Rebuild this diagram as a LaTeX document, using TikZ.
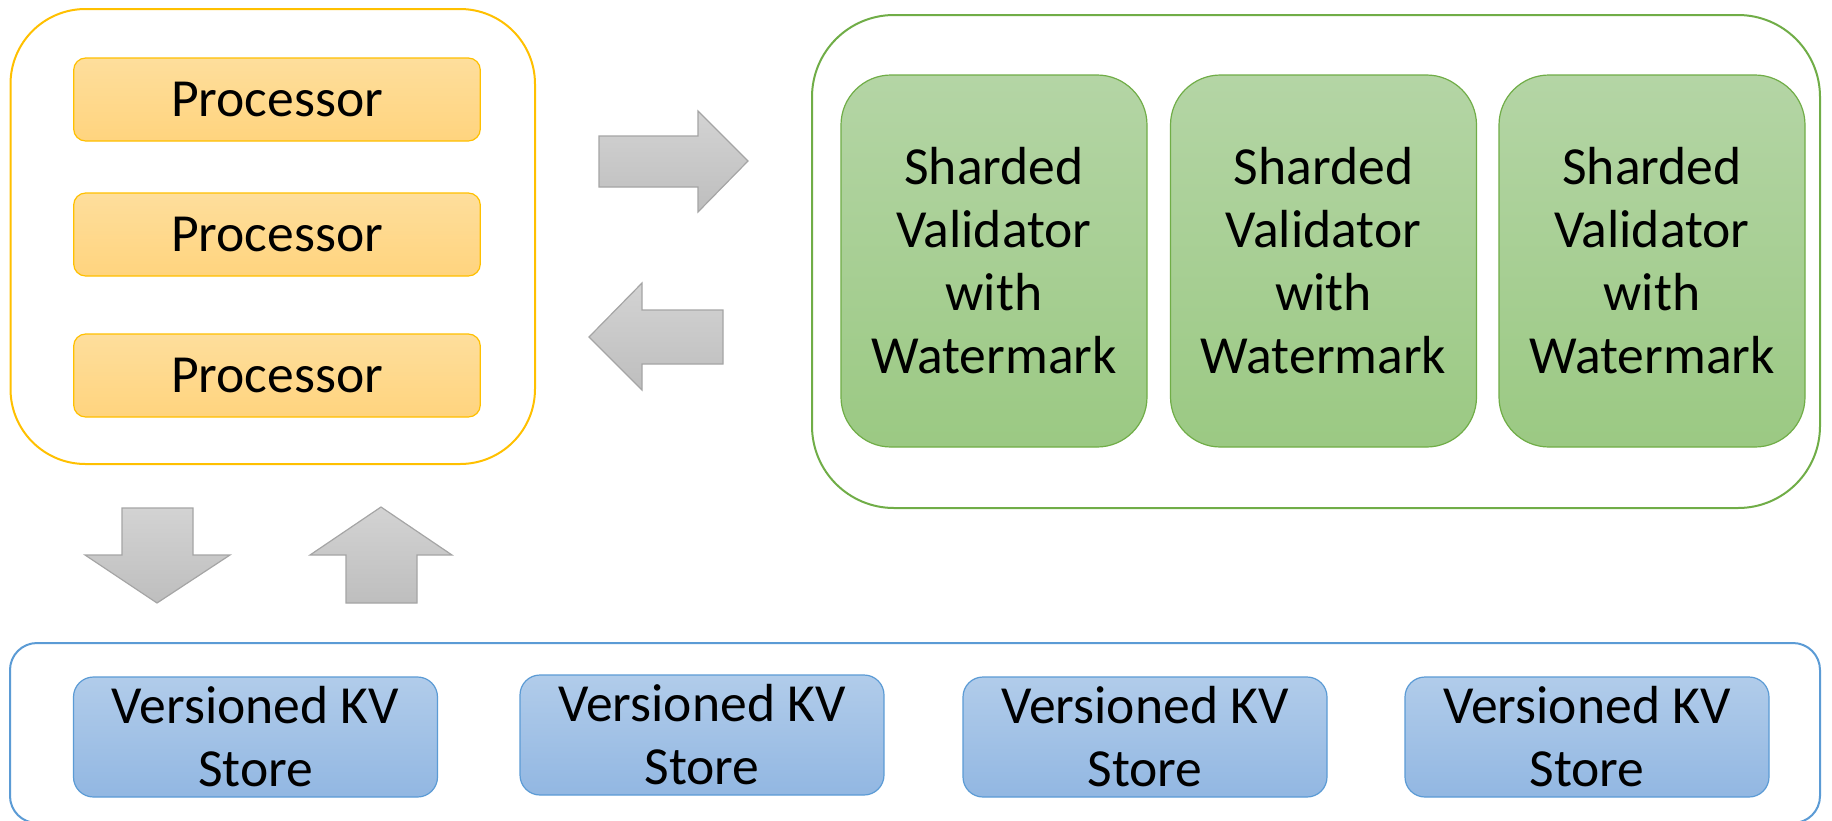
\documentclass[tikz,border=0pt]{standalone}
\usepackage{fontspec}
\setmainfont{Carlito}
\begin{document}
\begin{tikzpicture}[x=0.5pt,y=-0.5pt,
  lbl/.style={font=\fontsize{26.8pt}{31.5pt}\selectfont, align=center, text=black, inner sep=0pt},
  group/.style={draw, line width=1pt, fill=white, inner sep=0pt},
  procbox/.style={lbl, draw=procline, line width=0.6pt, rounded corners=6pt,
    top color=proctop, bottom color=procbot, minimum width=203.3pt, minimum height=41.5pt},
  valbox/.style={lbl, draw=valline, line width=0.6pt, rounded corners=25pt,
    top color=valtop, bottom color=valbot, minimum width=153pt, minimum height=186pt},
  kvbox/.style={lbl, draw=kvline, line width=0.6pt, rounded corners=10pt,
    top color=kvtop, bottom color=kvbot, minimum width=182pt, minimum height=60pt},
  blockarrow/.style={draw=arrline, line width=0.6pt, top color=arrtop, bottom color=arrbot, line join=miter}]
\definecolor{procline}{HTML}{FFC000}
\definecolor{proctop}{HTML}{FEDE9C}
\definecolor{procbot}{HTML}{FFD47E}
\definecolor{valline}{HTML}{70AD47}
\definecolor{valtop}{HTML}{B4D5A5}
\definecolor{valbot}{HTML}{9BC983}
\definecolor{kvline}{HTML}{5B9BD5}
\definecolor{kvtop}{HTML}{B1CCEA}
\definecolor{kvbot}{HTML}{92B7E2}
\definecolor{arrline}{HTML}{A5A5A5}
\definecolor{arrtop}{HTML}{D3D3D3}
\definecolor{arrbot}{HTML}{BEBEBE}

\useasboundingbox (0,0) rectangle (1832,820);

% processor group
\draw[group, draw=procline, rounded corners=37.5pt] (10.5,9) rectangle (535,464);
\node[procbox] (p1) at (277,99.5) {Processor};
\node[procbox] (p2) at (277,234.5) {Processor};
\node[procbox] (p3) at (277,375.5) {Processor};

% validator group
\draw[group, draw=valline, rounded corners=41pt] (812,15) rectangle (1820,508);
\node[valbox] (v1) at (994,261) {Sharded\\Validator\\with\\Watermark};
\node[valbox] (v2) at (1323.5,261) {Sharded\\Validator\\with\\Watermark};
\node[valbox] (v3) at (1652,261) {Sharded\\Validator\\with\\Watermark};

% storage group
\draw[group, draw=kvline, rounded corners=13.5pt] (10,643) rectangle (1820,823);
\node[kvbox] (k1) at (255.5,737) {Versioned KV\\Store};
\node[kvbox] (k2) at (702,735) {Versioned KV\\Store};
\node[kvbox] (k3) at (1145,737) {Versioned KV\\Store};
\node[kvbox] (k4) at (1587,737) {Versioned KV\\Store};

% block arrows between the groups
\draw[blockarrow] (599,136) -- (698,136) -- (698,111) -- (748,161) -- (698,212) -- (698,187) -- (599,187) -- cycle;
\draw[blockarrow] (589,337) -- (642,283) -- (642,310) -- (723,310) -- (723,364) -- (642,364) -- (642,390) -- cycle;
\draw[blockarrow] (122,508) -- (193,508) -- (193,555) -- (230,555) -- (157,603) -- (85,555) -- (122,555) -- cycle;
\draw[blockarrow] (381,507) -- (452,555) -- (417,555) -- (417,603) -- (346,603) -- (346,555) -- (310,555) -- cycle;
\end{tikzpicture}
\end{document}
